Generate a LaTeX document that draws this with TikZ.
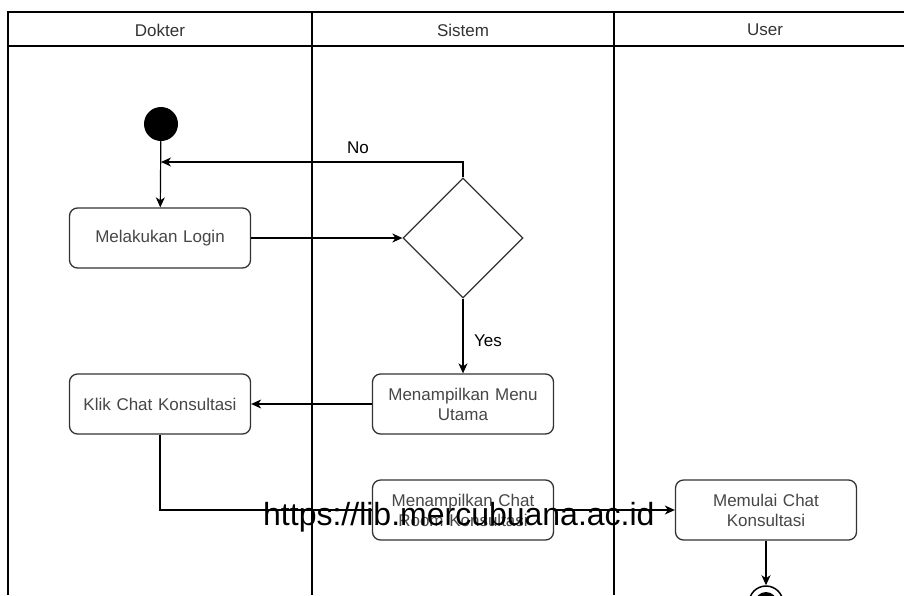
\documentclass[tikz,border=0pt]{standalone}
\usepackage{fontspec}
\setmainfont{Liberation Sans}
\usetikzlibrary{arrows.meta,shapes.geometric}
\begin{document}
\begin{tikzpicture}[x=1pt,y=-1pt,
  lane/.style={line width=1.4pt, draw=black},
  lanetitle/.style={font=\fontsize{17}{20}\selectfont, text=black!80},
  act/.style={draw=black!80, line width=1.3pt, rounded corners=8pt, fill=white,
    minimum width=181pt, minimum height=60pt, inner sep=2pt, align=center,
    text width=170pt, font=\fontsize{17}{20}\selectfont, text=black!72},
  decision/.style={diamond, draw=black!80, line width=1.3pt, fill=white,
    minimum width=120pt, minimum height=120pt, inner sep=0pt, aspect=1},
  flow/.style={line width=1.2pt, draw=black, -{Stealth[length=10pt,width=9pt,inset=3pt]}},
  guard/.style={font=\fontsize{17}{20}\selectfont, text=black}]

\useasboundingbox (0,0) rectangle (904,595);
\clip (0,0) rectangle (904,595);
\fill[white] (0,0) rectangle (904,595);

% swimlane frame
\draw[lane] (8,595) -- (8,12) -- (904,12);
\draw[lane] (8,46) -- (904,46);
\draw[lane] (312,12) -- (312,595);
\draw[lane] (614,12) -- (614,595);
\node[lanetitle] (tDokter) at (160,30) {Dokter};
\node[lanetitle] (tSistem) at (463,30) {Sistem};
\node[lanetitle] (tUser)   at (765,30) {User};

% activities
\node[circle, fill=black, minimum size=34pt, inner sep=0pt] (start) at (161,124) {};
\node[act] (login) at (160,238) {Melakukan Login};
\node[decision] (check) at (463,238) {};
\node[act] (menu) at (463,404) {Menampilkan Menu\\Utama};
\node[act] (klik) at (160,404) {Klik Chat Konsultasi};
\node[act] (mulai) at (766,510) {Memulai Chat\\Konsultasi};
\node[circle, draw=black, line width=1.5pt, fill=white, minimum size=34pt, inner sep=0pt] (end) at (766,603) {};
\fill[black] (end.center) circle (11pt);

\coordinate (merge) at (161,162);

% control flow
\draw[flow] (start) -- (login);
\draw[flow] (check.north) |- (merge);
\node[guard] (lblNo) at (358,148) {No};
\draw[flow] (login.east) -- (check.west);
\draw[flow] (check.south) -- (menu.north);
\node[guard] (lblYes) at (488,341) {Yes};
\draw[flow] (menu.west) -- (klik.east);
\draw[flow] (klik.south) |- (mulai.west);
\draw[flow] (mulai.south) -- (end.north);

% drawn over the passing flow line
\node[act] (room) at (463,510) {Menampilkan Chat\\Room Konsultasi};

\node[anchor=base west, inner sep=0pt, font=\fontsize{32}{36}\selectfont] (wm) at (263,525) {https://lib.mercubuana.ac.id};
\end{tikzpicture}
\end{document}
